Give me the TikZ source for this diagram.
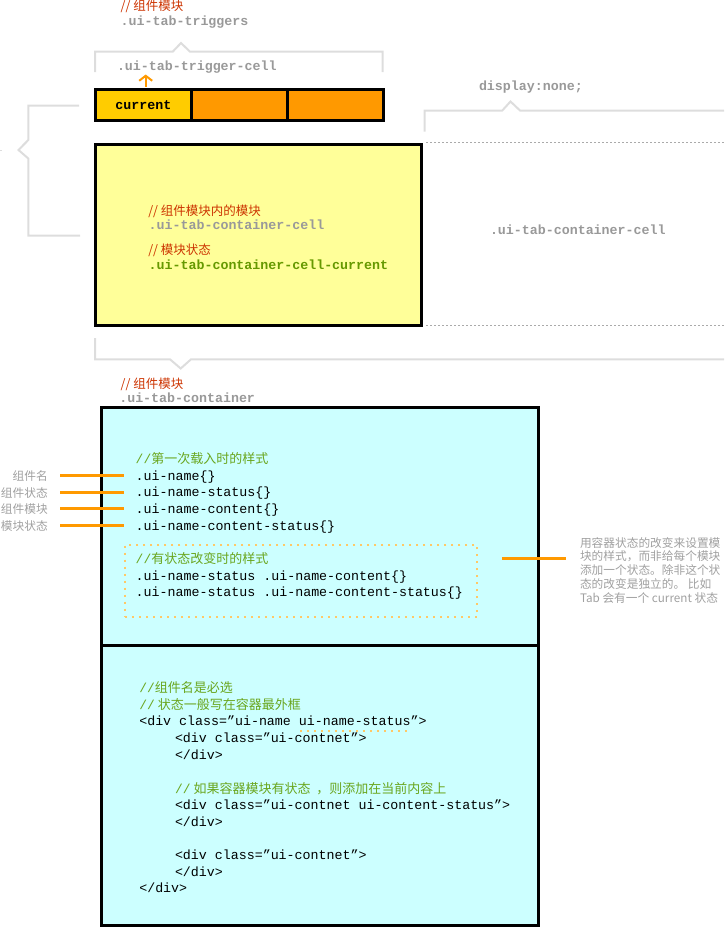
\documentclass[tikz,border=0pt]{standalone}
\usepackage{fontspec}
\setmonofont{Liberation Mono}
\newfontfamily\mono{Liberation Mono}
\newfontfamily\cjk{Noto Sans CJK SC}
\usetikzlibrary{arrows.meta}
\definecolor{redt}{HTML}{CC3300}
\definecolor{grayt}{HTML}{999999}
\definecolor{greenb}{HTML}{669900}
\definecolor{greent}{HTML}{6AA61E}
\definecolor{sidet}{HTML}{A0A0A0}
\definecolor{bracketc}{HTML}{DDDDDD}
\definecolor{dotg}{HTML}{AAAAAA}
\definecolor{dotc}{HTML}{FFC866}
\definecolor{orangec}{HTML}{FF9900}
\definecolor{curc}{HTML}{FFCC00}
\definecolor{yelc}{HTML}{FFFF99}
\definecolor{cyanc}{HTML}{CCFFFF}
\newcommand\cslash{{\mono //}}
\tikzset{
  redc/.style={font=\cjk\fontsize{12.5}{14}\selectfont, text=redt, anchor=base west},
  graylbl/.style={font={\mono\bfseries\fontsize{13.3}{15}\selectfont}, text=grayt, anchor=base west},
  codet/.style={font={\mono\fontsize{13.3}{15}\selectfont}, text=black, anchor=base west},
  gcom/.style={font=\cjk\fontsize{13}{15}\selectfont, text=greent, anchor=base west},
  sidelbl/.style={font=\cjk\fontsize{11.7}{13}\selectfont, text=sidet},
  gline/.style={draw=bracketc, line width=2pt},
  tabc/.style={draw=black, line width=3pt, anchor=north west, minimum height=30.4pt},
  bigbox/.style={draw=black, line width=3pt, anchor=north west},
  olink/.style={draw=orangec, line width=2.6pt},
  odots/.style={draw=dotc, line width=2pt, dash pattern=on 2pt off 5pt},
  gdots/.style={draw=dotg, line width=1.5pt, dash pattern=on 1.5pt off 2.5pt},
}
\begin{document}
\begin{tikzpicture}[x=1pt,y=-1pt, every node/.style={inner sep=0pt, outer sep=0pt}]
\useasboundingbox (0,0) rectangle (724,929);

% ---------- top: triggers ----------
\node[redc] (trgc) at (120.7,10) {// 组件模块};
\node[graylbl] (trg) at (120.7,25) {.ui-tab-triggers};
\draw[gline] (95,72) -- (95,51.7) -- (172.7,51.7) -- (181,43) -- (190,51.7) -- (382.7,51.7) -- (382.7,72);
\node[graylbl] (trgcell) at (117,70) {.ui-tab-trigger-cell};

\node[tabc, fill=curc, minimum width=95.2pt, font={\mono\bfseries\fontsize{13.3}{15}\selectfont}] (t1) at (95.8,89.8) {current};
\node[tabc, fill=orangec, minimum width=96pt] (t2) at (191,89.8) {};
\node[tabc, fill=orangec, minimum width=96.5pt] (t3) at (287,89.8) {};

\coordinate (arrbot) at (145.7,86.7);
\coordinate (arrtop) at (145.7,74.5);
\draw[draw=orangec, line width=2pt, -{Straight Barb[length=5pt,width=13pt]}] (arrbot) -- (arrtop);

% ---------- left brace ----------
\draw[gline] (79,105.7) -- (28.3,105.7) -- (28.3,140) -- (18.5,150) -- (28.3,158.5) -- (28.3,235.7) -- (80,235.7);
\draw[draw=bracketc, line width=1pt] (0,150.5) -- (2,150.5);

% ---------- yellow container cell ----------
\node[bigbox, fill=yelc, minimum width=325.4pt, minimum height=180.4pt] (ybox) at (95.8,144.8) {};
\node[redc] (yc1) at (148.3,215) {// 组件模块内的模块};
\node[graylbl] (yc2) at (148.7,229.3) {.ui-tab-container-cell};
\node[redc] (yc3) at (148.3,254) {// 模块状态};
\node[graylbl, text=greenb] (yc4) at (148.7,269.3) {.ui-tab-container-cell-current};

% ---------- right: display none ----------
\node[graylbl] (dn) at (479,90) {display:none;};
\draw[gline] (424.5,131.7) -- (424.5,110.5) -- (502.3,110.5) -- (510.5,101.5) -- (520,110.5) -- (724,110.5);
\coordinate (dl1a) at (426,142.5);
\coordinate (dl1b) at (724,142.5);
\coordinate (dl2a) at (426,325.5);
\coordinate (dl2b) at (724,325.5);
\draw[gdots] (dl1a) -- (dl1b);
\draw[gdots] (dl2a) -- (dl2b);
\node[graylbl] (rcell) at (490,234) {.ui-tab-container-cell};

% ---------- bottom bracket ----------
\draw[gline] (95,338) -- (95,359.3) -- (170,359.3) -- (180.7,368.5) -- (191,359.3) -- (724,359.3);
\node[redc] (ctc) at (120.7,388) {// 组件模块};
\node[graylbl] (ct) at (119.3,402.7) {.ui-tab-container};

% ---------- cyan boxes ----------
\node[bigbox, fill=cyanc, minimum width=436.8pt, minimum height=237.5pt] (cbox1) at (101.7,407.5) {};
\node[bigbox, fill=cyanc, minimum width=436.8pt, minimum height=280.5pt] (cbox2) at (101.7,645) {};

% upper code
\node[gcom] (u0) at (135.7,463) {\cslash 第一次载入时的样式};
\node[codet] (u1) at (135.7,480) {.ui-name\{\}};
\node[codet] (u2) at (135.7,496.7) {.ui-name-status\{\}};
\node[codet] (u3) at (135.7,513.3) {.ui-name-content\{\}};
\node[codet] (u4) at (135.7,530) {.ui-name-content-status\{\}};

\node[odots, anchor=north west, minimum width=352.3pt, minimum height=71.7pt] (dbox) at (125,545) {};
\node[gcom] (u5) at (135.7,563.5) {\cslash 有状态改变时的样式};
\node[codet] (u6) at (135.7,580) {.ui-name-status .ui-name-content\{\}};
\node[codet] (u7) at (135.7,596.7) {.ui-name-status .ui-name-content-status\{\}};

% left labels
\node[sidelbl, anchor=base east] (l1) at (47.7,480) {组件名};
\node[sidelbl, anchor=base east] (l2) at (47.7,497) {组件状态};
\node[sidelbl, anchor=base east] (l3) at (47.7,513) {组件模块};
\node[sidelbl, anchor=base east] (l4) at (47.7,530) {模块状态};
\coordinate (la1) at (60,475.7);  \coordinate (lb1) at (124,475.7);
\coordinate (la2) at (60,492.7);  \coordinate (lb2) at (124,492.7);
\coordinate (la3) at (60,508.5);  \coordinate (lb3) at (124,508.5);
\coordinate (la4) at (60,525.3);  \coordinate (lb4) at (124,525.3);
\draw[olink] (la1) -- (lb1);
\draw[olink] (la2) -- (lb2);
\draw[olink] (la3) -- (lb3);
\draw[olink] (la4) -- (lb4);

% right note
\coordinate (ra) at (502.3,558.3);
\coordinate (rb) at (565.7,558.3);
\draw[olink] (ra) -- (rb);
\node[sidelbl, anchor=base west] (r1) at (580,547) {用容器状态的改变来设置模};
\node[sidelbl, anchor=base west] (r2) at (580,560.8) {块的样式，而非给每个模块};
\node[sidelbl, anchor=base west] (r3) at (580,574.5) {添加一个状态。除非这个状};
\node[sidelbl, anchor=base west] (r4) at (580,588.2) {态的改变是独立的。 比如};
\node[sidelbl, anchor=base west] (r5) at (580,602) {Tab 会有一个 current 状态};

% lower code
\node[gcom] (c1) at (139.3,692) {\cslash 组件名是必选};
\node[gcom] (c2) at (139.3,709) {\cslash{} 状态一般写在容器最外框};
\node[codet] (c3) at (139.3,725.7) {<div class=”ui-name ui-name-status”>};
\node[codet] (c4) at (175,742.3) {<div class=”ui-contnet”>};
\node[codet] (c5) at (175,759) {</div>};
\node[gcom] (c6) at (175,793) {\cslash{} 如果容器模块有状态\ \ ，则添加在当前内容上};
\node[codet] (c7) at (175,809.3) {<div class=”ui-contnet ui-content-status”>};
\node[codet] (c8) at (175,826) {</div>};
\node[codet] (c9) at (175,859.3) {<div class=”ui-contnet”>};
\node[codet] (c10) at (175,876) {</div>};
\node[codet] (c11) at (139.3,892.7) {</div>};
\coordinate (ula) at (300,730.7);
\coordinate (ulb) at (409,730.7);
\draw[odots] (ula) -- (ulb);
\end{tikzpicture}
\end{document}
